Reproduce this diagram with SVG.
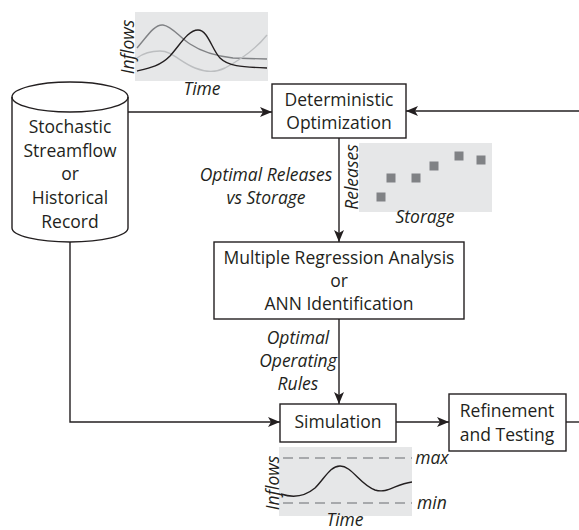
<svg xmlns="http://www.w3.org/2000/svg" width="579" height="530" viewBox="0 0 579 530">
<defs>
<style>
.t{font-family:"Open Sans","Liberation Sans",sans-serif;font-size:17.5px;fill:#231f20;text-anchor:middle}
.i{font-family:"Open Sans","Liberation Sans",sans-serif;font-size:17.5px;font-style:italic;fill:#231f20;text-anchor:middle}
.box{fill:#fff;stroke:#231f20;stroke-width:1.4}
.ln{fill:none;stroke:#231f20;stroke-width:1.4}
.bg{fill:#e6e7e8}
.dash{stroke:#939598;stroke-width:1.3;stroke-dasharray:10 6;fill:none}
.sq{fill:#808285}
</style>
<marker id="ah" viewBox="0 0 12 10" markerWidth="12" markerHeight="10" refX="12" refY="5" orient="auto" markerUnits="userSpaceOnUse">
<path d="M0,0 L12,5 L0,10 L3,5 Z" fill="#231f20"/>
</marker>
</defs>

<g id="inflow-chart-top">
<rect class="bg" x="135" y="12" width="133" height="69"/>
<path d="M137,48 C148,35 155,24 163,25 C172,26 180,38 190,44 C202,52 215,56 233,58 L267,59" fill="none" stroke="#808285" stroke-width="1.4"/>
<path d="M137,58 C145,52 152,51 160,51 C172,51 180,62 195,68 C205,72 215,73 225,68 C240,60 255,50 267,35" fill="none" stroke="#bcbec0" stroke-width="1.4"/>
<path d="M137,71 C150,68 160,66 170,56 C180,45 188,30 198,30 C208,30 212,50 220,58 C228,66 240,67 267,68" fill="none" stroke="#231f20" stroke-width="1.4"/>
<text class="i" transform="translate(134,47) rotate(-90)">Inflows</text>
<text class="i" x="202" y="95">Time</text>
</g>

<g id="source">
<path class="box" d="M12,97 A58,15 0 0 1 128,97 L128,228 A58,14 0 0 1 12,228 Z"/>
<path class="ln" d="M12,97 A58,15 0 0 0 128,97"/>
<text class="t" x="70" y="133">Stochastic</text>
<text class="t" x="70" y="157">Streamflow</text>
<text class="t" x="70" y="180">or</text>
<text class="t" x="70" y="204">Historical</text>
<text class="t" x="70" y="228">Record</text>
</g>

<g id="det-opt">
<rect class="box" x="272" y="84" width="134" height="54"/>
<text class="t" x="339" y="106">Deterministic</text>
<text class="t" x="339" y="129">Optimization</text>
</g>

<g id="storage-chart">
<rect class="bg" x="359" y="143" width="133" height="69"/>
<rect class="sq" x="376.5" y="192.5" width="9" height="9"/>
<rect class="sq" x="386.5" y="173.5" width="9" height="9"/>
<rect class="sq" x="411.5" y="173.5" width="9" height="9"/>
<rect class="sq" x="429.5" y="161.5" width="9" height="9"/>
<rect class="sq" x="454.5" y="151.5" width="9" height="9"/>
<rect class="sq" x="476.5" y="155.5" width="9" height="9"/>
<text class="i" transform="translate(358,177) rotate(-90)">Releases</text>
<text class="i" x="425" y="223">Storage</text>
</g>

<g id="label-releases">
<text class="i" x="266" y="181">Optimal Releases</text>
<text class="i" x="266" y="204">vs Storage</text>
</g>

<g id="regression">
<rect class="box" x="214" y="242" width="250" height="77"/>
<text class="t" x="339" y="264">Multiple Regression Analysis</text>
<text class="t" x="339" y="287">or</text>
<text class="t" x="339" y="310">ANN Identification</text>
</g>

<g id="label-rules">
<text class="i" x="298" y="344">Optimal</text>
<text class="i" x="298" y="367">Operating</text>
<text class="i" x="298" y="390">Rules</text>
</g>

<g id="simulation">
<rect class="box" x="280" y="404" width="116" height="38"/>
<text class="t" x="338" y="428">Simulation</text>
</g>

<g id="refinement">
<rect class="box" x="449" y="394" width="117" height="57"/>
<text class="t" x="507" y="417">Refinement</text>
<text class="t" x="507" y="441">and Testing</text>
</g>

<g id="inflow-chart-bottom">
<rect class="bg" x="279" y="447" width="133" height="69"/>
<line class="dash" x1="283" y1="458" x2="412" y2="458"/>
<line class="dash" x1="283" y1="503" x2="412" y2="503"/>
<path d="M281,494 C290,497 303,498 315,488 C325,478 330,466 340,466 C352,466 360,485 375,490 C388,494 395,484 412,482" fill="none" stroke="#231f20" stroke-width="1.4"/>
<text class="i" transform="translate(279,483) rotate(-90)">Inflows</text>
<text class="i" x="432" y="464">max</text>
<text class="i" x="432" y="509">min</text>
<text class="i" x="345" y="526">Time</text>
</g>

<g id="connectors">
<path class="ln" d="M128,112 L272,112" marker-end="url(#ah)"/>
<path class="ln" d="M579,111 L406,111" marker-end="url(#ah)"/>
<path class="ln" d="M339,138 L339,242" marker-end="url(#ah)"/>
<path class="ln" d="M339,319 L339,404" marker-end="url(#ah)"/>
<path class="ln" d="M70,242 L70,422 L280,422" marker-end="url(#ah)"/>
<path class="ln" d="M396,422 L449,422" marker-end="url(#ah)"/>
<path class="ln" d="M566,422 L579,422"/>
</g>
</svg>
